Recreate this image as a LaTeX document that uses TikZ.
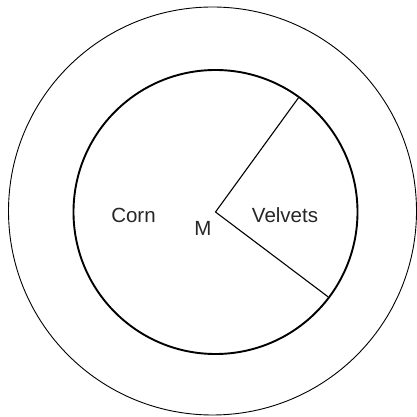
\documentclass[tikz,border=0pt]{standalone}
\usepackage{fontspec}
\setmainfont{Liberation Sans}
\usepackage{tikz}
\usetikzlibrary{calc}
\tikzset{
  rimline/.style={draw=black, line width=0.9pt},
  innerline/.style={draw=black, line width=1.9pt},
  spokeline/.style={draw=black, line width=1.1pt},
  pielabel/.style={font=\fontsize{20.5}{24}\selectfont, text=black!85, inner sep=0pt}
}
\begin{document}
\begin{tikzpicture}[x=1pt,y=1pt]
  \useasboundingbox (0,0) rectangle (416,417);

  \coordinate (outerC) at (212.5,206);
  \coordinate (M) at (215.5,205);

  \draw[rimline] (outerC) circle (204);
  \draw[innerline] (M) circle (142);

  \coordinate (cutA) at ($(M)+(54:141)$);
  \coordinate (cutB) at ($(M)+(-37:141)$);
  \draw[spokeline, line join=miter] (cutA) -- (M) -- (cutB);

  \node[pielabel] (corn) at (133.5,202) {Corn};
  \node[pielabel] (velvets) at (285,202) {Velvets};
  \node[pielabel] (mlabel) at (203,189) {M};
\end{tikzpicture}
\end{document}
